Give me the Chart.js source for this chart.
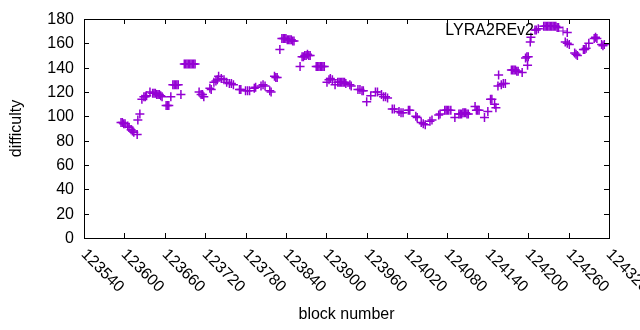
<!DOCTYPE html>
<html>
<head>
<meta charset="utf-8">
<title>LYRA2REv2 difficulty</title>
<script src="https://cdn.jsdelivr.net/npm/chart.js@4.4.0/dist/chart.umd.min.js"></script>
<style>
  html, body { margin: 0; padding: 0; background: #fff; }
  #wrap { width: 640px; height: 330px; position: relative; }
</style>
</head>
<body>
<div id="wrap"><canvas id="chart"></canvas></div>
<script>
const SERIES_NAME = 'LYRA2REv2';
const X_TITLE = 'block number';
const Y_TITLE = 'difficulty';
const xTicks = [123540, 123600, 123660, 123720, 123780, 123840, 123900, 123960, 124020, 124080, 124140, 124200, 124260, 124320];
const yTicks = [0, 20, 40, 60, 80, 100, 120, 140, 160, 180];

// block numbers and difficulty
const blocks = [
  123595, 123597, 123599, 123601, 123605, 123607, 123610, 123612, 123614, 123619,
  123620, 123623, 123626, 123629, 123631, 123633, 123638, 123642, 123644, 123646,
  123648, 123650, 123652, 123654, 123656, 123662, 123664, 123666, 123669, 123672,
  123674, 123676, 123678, 123680, 123684, 123689, 123691, 123693, 123695, 123697,
  123699, 123701, 123703, 123705, 123711, 123714, 123716, 123718, 123727, 123729,
  123733, 123736, 123738, 123740, 123744, 123748, 123752, 123756, 123759, 123762,
  123771, 123773, 123780, 123783, 123786, 123793, 123795, 123803, 123806, 123809,
  123816, 123818, 123823, 123825, 123827, 123831, 123834, 123836, 123838, 123840,
  123842, 123844, 123846, 123848, 123850, 123852, 123861, 123864, 123866, 123868,
  123870, 123872, 123874, 123876, 123885, 123887, 123889, 123891, 123893, 123895,
  123897, 123901, 123904, 123906, 123909, 123913, 123917, 123919, 123921, 123923,
  123925, 123927, 123929, 123935, 123937, 123947, 123950, 123953, 123955, 123960,
  123966, 123973, 123976, 123982, 123985, 123988, 123991, 123998, 124001, 124008,
  124011, 124014, 124022, 124024, 124033, 124035, 124041, 124044, 124047, 124054,
  124057, 124067, 124069, 124076, 124078, 124080, 124082, 124085, 124091, 124097,
  124099, 124101, 124103, 124105, 124107, 124109, 124111, 124121, 124123, 124125,
  124127, 124135, 124140, 124144, 124146, 124150, 124152, 124155, 124156, 124160,
  124163, 124166, 124175, 124177, 124179, 124181, 124183, 124185, 124191, 124196,
  124198, 124199, 124200, 124203, 124204, 124210, 124212, 124215, 124223, 124225,
  124227, 124229, 124231, 124233, 124235, 124237, 124239, 124241, 124243, 124245,
  124255, 124258, 124258, 124261, 124269, 124271, 124273, 124282, 124284, 124286,
  124290, 124298, 124300, 124302, 124309, 124311, 124313
];
const difficulty = [
  95, 95, 94, 94, 92, 91, 89, 88, 87, 85,
  97, 102, 114, 116, 116, 117, 120, 119, 119, 119,
  118, 118, 118, 117, 116, 109, 109, 109, 116, 126,
  126, 126, 126, 126, 118, 143, 143, 143, 143, 143,
  143, 143, 143, 143, 120, 118, 118, 116, 123, 122,
  128, 129, 130, 133, 131, 130, 128, 127, 127, 126,
  122, 122, 121, 121, 121, 123, 124, 125, 126, 125,
  121, 120, 133, 132, 132, 155, 164, 164, 164, 164,
  163, 163, 163, 163, 162, 162, 141, 149, 149, 150,
  150, 151, 150, 150, 141, 141, 141, 141, 141, 141,
  141, 128, 130, 131, 130, 126, 128, 128, 128, 128,
  128, 128, 127, 126, 125, 122, 122, 121, 121, 112,
  117, 120, 120, 118, 116, 116, 115, 106, 106, 104,
  103, 103, 105, 105, 100, 99, 95, 94, 93, 96,
  97, 101, 102, 105, 105, 105, 105, 105, 99, 102,
  102, 102, 103, 103, 103, 102, 102, 108, 105, 105,
  105, 99, 104, 114, 114, 110, 107, 125, 134, 126,
  127, 127, 138, 138, 138, 138, 137, 137, 136, 148,
  149, 142, 149, 161, 165, 171, 171, 172, 174, 174,
  174, 174, 174, 174, 174, 174, 174, 174, 173, 173,
  161, 169, 160, 159, 152, 151, 150, 155, 155, 156,
  160, 164, 165, 164, 159, 158, 159
];

const POINT_COLOR = '#9400d3';
const FONT = '16px "Liberation Sans", Arial, sans-serif';

const points = blocks.map((b, i) => ({ x: b, y: difficulty[i] }));

function drawCross(ctx, x, y, r) {
  ctx.beginPath();
  ctx.moveTo(x - r, y); ctx.lineTo(x + r, y);
  ctx.moveTo(x, y - r); ctx.lineTo(x, y + r);
  ctx.stroke();
}

// gnuplot-like frame, inward ticks, labels and key
const frame = {
  id: 'frame',
  afterDraw(chart) {
    const { ctx, chartArea: a, scales: { x, y } } = chart;
    ctx.save();
    ctx.strokeStyle = '#000';
    ctx.lineWidth = 1;
    ctx.strokeRect(Math.round(a.left) + 0.5, Math.round(a.top) + 0.5,
      Math.round(a.right - a.left), Math.round(a.bottom - a.top));

    ctx.fillStyle = '#000';
    ctx.font = FONT;
    const tl = 5;

    yTicks.forEach(v => {
      const py = Math.round(y.getPixelForValue(v)) + 0.5;
      ctx.beginPath();
      ctx.moveTo(a.left, py); ctx.lineTo(a.left + tl, py);
      ctx.moveTo(a.right, py); ctx.lineTo(a.right - tl, py);
      ctx.stroke();
      ctx.textAlign = 'right';
      ctx.textBaseline = 'middle';
      ctx.fillText(String(v), a.left - 10, py);
    });

    xTicks.forEach(v => {
      const px = Math.round(x.getPixelForValue(v)) + 0.5;
      ctx.beginPath();
      ctx.moveTo(px, a.bottom); ctx.lineTo(px, a.bottom - tl);
      ctx.moveTo(px, a.top); ctx.lineTo(px, a.top + tl);
      ctx.stroke();
      ctx.save();
      ctx.translate(px - 1, a.bottom + 14);
      ctx.rotate(Math.PI / 4);
      ctx.textAlign = 'left';
      ctx.textBaseline = 'middle';
      ctx.fillText(String(v), 0, 0);
      ctx.restore();
    });

    // axis titles
    ctx.textAlign = 'center';
    ctx.textBaseline = 'middle';
    ctx.fillText(X_TITLE, (a.left + a.right) / 2, 315);
    ctx.save();
    ctx.translate(17, (a.top + a.bottom) / 2);
    ctx.rotate(-Math.PI / 2);
    ctx.fillText(Y_TITLE, 0, 0);
    ctx.restore();

    // key
    ctx.textAlign = 'right';
    ctx.fillText(SERIES_NAME, 534, 31);
    ctx.strokeStyle = POINT_COLOR;
    drawCross(ctx, 563, 31, 4.5);
    ctx.restore();
  }
};

new Chart(document.getElementById('chart'), {
  type: 'scatter',
  data: {
    datasets: [{
      label: SERIES_NAME,
      data: points,
      pointStyle: 'cross',
      pointRadius: 4.5,
      borderColor: POINT_COLOR,
      backgroundColor: POINT_COLOR,
      borderWidth: 1.5,
      showLine: false,
    }],
  },
  options: {
    responsive: true,
    maintainAspectRatio: false,
    animation: false,
    events: [],
    layout: { padding: { left: 84, right: 31, top: 19, bottom: 92 } },
    plugins: { legend: { display: false }, tooltip: { enabled: false } },
    scales: {
      x: { type: 'linear', min: 123540, max: 124320, display: false },
      y: { type: 'linear', min: 0, max: 180, display: false },
    },
  },
  plugins: [frame],
});
</script>
</body>
</html>
